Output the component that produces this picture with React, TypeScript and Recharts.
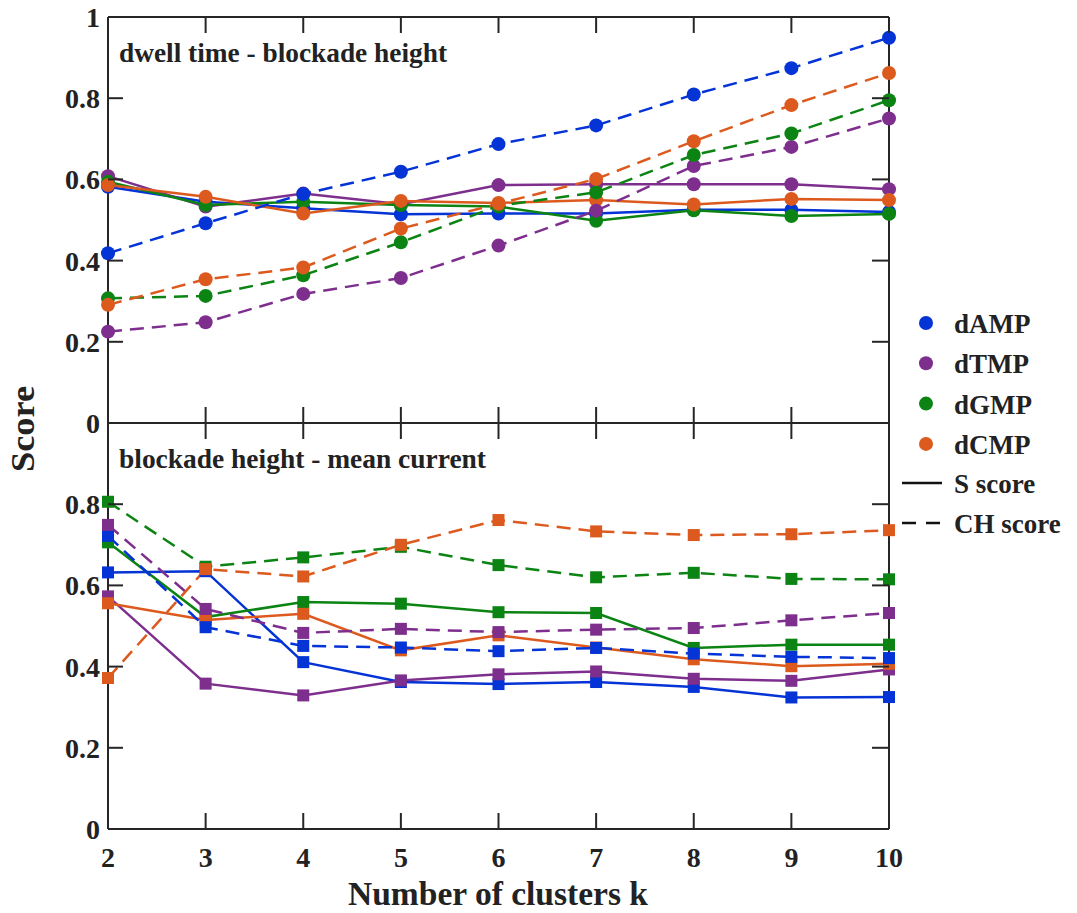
import React from 'react';
import {LineChart, Line, XAxis, YAxis} from 'recharts';

const kValues = [2, 3, 4, 5, 6, 7, 8, 9, 10];
const topYTicks = [0, 0.2, 0.4, 0.6, 0.8, 1];
const bottomYTicks = [0, 0.2, 0.4, 0.6, 0.8];
const innerYTicks = [0.2, 0.4, 0.6, 0.8];

// panel 1: dwell time - blockade height
const topAmpS = [0.582, 0.545, 0.529, 0.514, 0.516, 0.516, 0.525, 0.525, 0.52];
const topTmpS = [0.608, 0.533, 0.565, 0.539, 0.586, 0.588, 0.588, 0.588, 0.576];
const topGmpS = [0.594, 0.537, 0.545, 0.537, 0.533, 0.498, 0.524, 0.51, 0.515];
const topCmpS = [0.586, 0.557, 0.516, 0.547, 0.542, 0.549, 0.538, 0.552, 0.549];
const topAmpCH = [0.418, 0.492, 0.564, 0.619, 0.687, 0.733, 0.809, 0.874, 0.949];
const topTmpCH = [0.225, 0.248, 0.318, 0.357, 0.437, 0.523, 0.633, 0.68, 0.75];
const topGmpCH = [0.307, 0.313, 0.364, 0.445, 0.535, 0.568, 0.66, 0.713, 0.795];
const topCmpCH = [0.291, 0.354, 0.383, 0.479, 0.54, 0.601, 0.694, 0.783, 0.862];

// panel 2: blockade height - mean current
const botAmpS = [0.632, 0.635, 0.411, 0.362, 0.357, 0.362, 0.35, 0.324, 0.325];
const botTmpS = [0.573, 0.358, 0.329, 0.366, 0.381, 0.388, 0.37, 0.365, 0.393];
const botGmpS = [0.706, 0.522, 0.559, 0.555, 0.534, 0.532, 0.446, 0.454, 0.454];
const botCmpS = [0.556, 0.515, 0.53, 0.44, 0.477, 0.447, 0.418, 0.401, 0.407];
const botAmpCH = [0.722, 0.497, 0.451, 0.447, 0.438, 0.446, 0.432, 0.424, 0.421];
const botTmpCH = [0.749, 0.542, 0.483, 0.493, 0.485, 0.491, 0.495, 0.514, 0.532];
const botGmpCH = [0.806, 0.646, 0.669, 0.695, 0.65, 0.62, 0.631, 0.616, 0.615];
const botCmpCH = [0.372, 0.64, 0.622, 0.7, 0.761, 0.733, 0.724, 0.726, 0.736];

const nucleotides = ['dAMP', 'dTMP', 'dGMP', 'dCMP'];
const colors = ['#0433d6', '#7e2f8e', '#0b8413', '#dd5a1e'];

const FONT = '"Liberation Serif", "Times New Roman", serif';
const AXIS = '#262626';

function rows(s: number[][], ch: number[][]) {
  return kValues.map((k, i) => {
    const r: any = {k};
    nucleotides.forEach((n, j) => {
      r[n + '_S'] = s[j][i];
      r[n + '_CH'] = ch[j][i];
    });
    return r;
  });
}

const topRows = rows([topAmpS, topTmpS, topGmpS, topCmpS], [topAmpCH, topTmpCH, topGmpCH, topCmpCH]);
const botRows = rows([botAmpS, botTmpS, botGmpS, botCmpS], [botAmpCH, botTmpCH, botGmpCH, botCmpCH]);

const fmt = (v: number) => (v === 0 || v === 1 ? String(v) : v.toFixed(1));

function BottomTick(props: any) {
  const {x, y, payload, showLabel} = props;
  return (
    <g>
      <line x1={x} y1={y} x2={x} y2={y - 16} stroke={AXIS} strokeWidth={2}/>
      {showLabel && (
        <text x={x} y={y + 38} textAnchor="middle" fontFamily={FONT} fontWeight="bold" fontSize={28} fill="#222">
          {payload.value}
        </text>
      )}
    </g>
  );
}

function TopTick(props: any) {
  const {x, y} = props;
  return <line x1={x} y1={y} x2={x} y2={y + 16} stroke={AXIS} strokeWidth={2}/>;
}

function LeftTick(props: any) {
  const {x, y, payload} = props;
  return (
    <g>
      <line x1={x} y1={y} x2={x + 15} y2={y} stroke={AXIS} strokeWidth={2}/>
      <text x={x - 8} y={y + 10} textAnchor="end" fontFamily={FONT} fontWeight="bold" fontSize={28} fill="#222">
        {fmt(payload.value)}
      </text>
    </g>
  );
}

function RightTick(props: any) {
  const {x, y} = props;
  return <line x1={x} y1={y} x2={x - 17} y2={y} stroke={AXIS} strokeWidth={2}/>;
}

function squareDot(color: string) {
  return (p: any) => (
    <rect key={'sq' + p.index} x={p.cx - 6} y={p.cy - 6} width={12} height={12} fill={color}/>
  );
}

// S lines sit on the bottom/left axes, CH lines on the top/right axes (same domains and ranges)
function Panel({data, yTicks, topH, bottomH, height, showX, square}: any) {
  const axisLine = {stroke: AXIS, strokeWidth: 2};
  return (
    <LineChart width={1077} height={height} data={data} margin={{top: 0, right: 187, bottom: 0, left: 0}}>
      <XAxis dataKey="k" type="number" domain={[2, 10]} ticks={kValues} height={bottomH}
             axisLine={axisLine} tickLine={false} tickSize={0} tickMargin={0}
             tick={(p: any) => <BottomTick {...p} showLabel={showX}/>}/>
      <XAxis xAxisId="t" dataKey="k" orientation="top" type="number" domain={[2, 10]} ticks={kValues} height={topH}
             axisLine={axisLine} tickLine={false} tickSize={0} tickMargin={0}
             tick={TopTick}/>
      <YAxis type="number" domain={[0, 1]} ticks={yTicks} width={108} interval={0}
             axisLine={axisLine} tickLine={false} tickSize={0} tickMargin={0}
             tick={LeftTick}/>
      <YAxis yAxisId="r" orientation="right" type="number" domain={[0, 1]} ticks={innerYTicks} width={1}
             interval={0} axisLine={axisLine} tickLine={false} tickSize={0} tickMargin={0}
             tick={RightTick}/>
      {nucleotides.map((n, j) => (
        <Line key={n + 'S'} dataKey={n + '_S'} type="linear" stroke={colors[j]} strokeWidth={2.5}
              dot={square ? squareDot(colors[j]) : {r: 7, fill: colors[j], stroke: 'none'}}
              activeDot={false} isAnimationActive={false}/>
      ))}
      {nucleotides.map((n, j) => (
        <Line key={n + 'CH'} dataKey={n + '_CH'} xAxisId="t" yAxisId="r" type="linear" stroke={colors[j]}
              strokeWidth={2.5} strokeDasharray="14 8"
              dot={square ? squareDot(colors[j]) : {r: 7, fill: colors[j], stroke: 'none'}}
              activeDot={false} isAnimationActive={false}/>
      ))}
    </LineChart>
  );
}

export default function App() {
  const txt = {fontFamily: FONT, fontWeight: 'bold' as const, fill: '#222'};
  return (
    <div style={{position: 'absolute', left: 0, top: 0, width: 1077, height: 913, background: '#fff'}}>
      <div style={{position: 'absolute', left: 0, top: 0}}>
        <Panel data={topRows} yTicks={topYTicks} topH={17} bottomH={17} height={440} showX={false} square={false}/>
      </div>
      <div style={{position: 'absolute', left: 0, top: 400}}>
        <Panel data={botRows} yTicks={bottomYTicks} topH={23} bottomH={84} height={513} showX={true} square={true}/>
      </div>
      <svg width={1077} height={913} style={{position: 'absolute', left: 0, top: 0, pointerEvents: 'none'}}>
        <text x={119} y={62} fontSize={28} textLength={328} lengthAdjust="spacingAndGlyphs" {...txt}>
          dwell time - blockade height
        </text>
        <text x={119} y={468} fontSize={28} textLength={367} lengthAdjust="spacingAndGlyphs" {...txt}>
          blockade height - mean current
        </text>
        <text transform="translate(34,429) rotate(-90)" textAnchor="middle" fontSize={34} textLength={86}
              lengthAdjust="spacingAndGlyphs" {...txt}>
          Score
        </text>
        <text x={498} y={905} textAnchor="middle" fontSize={34} textLength={300} lengthAdjust="spacingAndGlyphs" {...txt}>
          Number of clusters k
        </text>
        {nucleotides.map((n, j) => (
          <g key={n}>
            <circle cx={926} cy={323 + j * 40.3} r={7} fill={colors[j]}/>
            <text x={954} y={333 + j * 40.3} fontSize={27} {...txt}>{n}</text>
          </g>
        ))}
        <line x1={902} y1={483} x2={942} y2={483} stroke="#111" strokeWidth={2.5}/>
        <text x={954} y={493} fontSize={27} {...txt}>S score</text>
        <line x1={902} y1={523} x2={942} y2={523} stroke="#111" strokeWidth={2.5} strokeDasharray="14 10"/>
        <text x={954} y={533} fontSize={27} {...txt}>CH score</text>
      </svg>
    </div>
  );
}
